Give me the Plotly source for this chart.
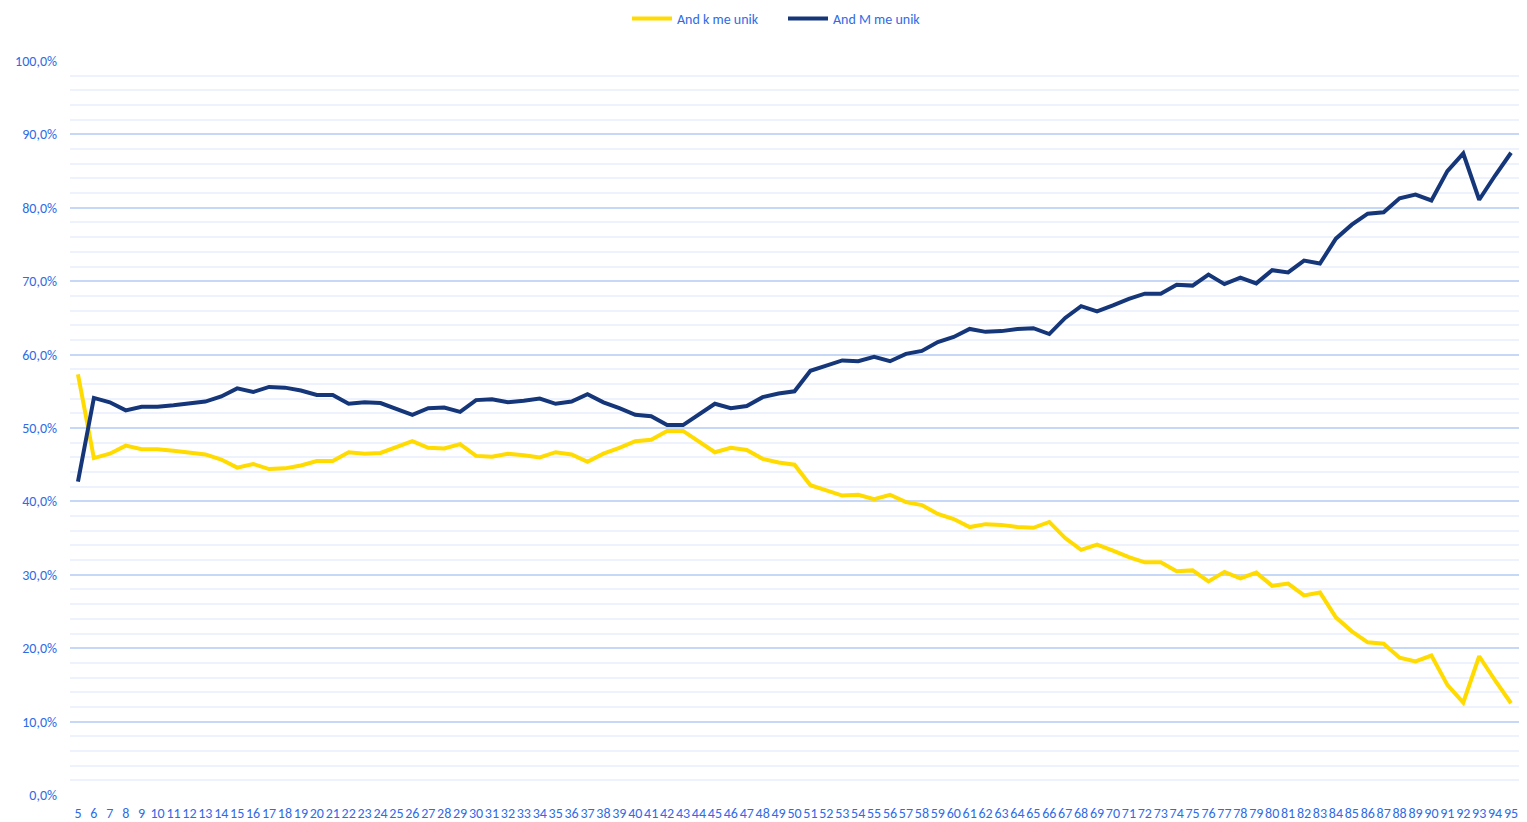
import plotly.graph_objects as go

ages = [str(a) for a in range(5, 96)]

m_unik = [42.7, 54.1, 53.5, 52.4, 52.9, 52.9, 53.1, 53.4, 53.6, 54.3,
          55.4, 54.9, 55.6, 55.5, 55.1, 54.5, 54.5, 53.3, 53.5, 53.4,
          52.6, 51.8, 52.7, 52.8, 52.2, 53.8, 53.9, 53.5, 53.7, 54.0,
          53.3, 53.6, 54.6, 53.5, 52.7, 51.8, 51.6, 50.4, 50.4, 51.9,
          53.3, 52.7, 53.0, 54.2, 54.7, 55.0, 57.8, 58.5, 59.2, 59.1,
          59.7, 59.1, 60.1, 60.5, 61.7, 62.4, 63.5, 63.1, 63.2, 63.5,
          63.6, 62.8, 65.0, 66.6, 65.9, 66.7, 67.6, 68.3, 68.3, 69.5,
          69.4, 70.9, 69.6, 70.5, 69.7, 71.5, 71.2, 72.8, 72.4, 75.8,
          77.7, 79.2, 79.4, 81.3, 81.8, 81.0, 85.0, 87.4, 81.1, 84.4,
          87.5]

k_unik = [57.3, 45.9, 46.5, 47.6, 47.1, 47.1, 46.9, 46.6, 46.4, 45.7,
          44.6, 45.1, 44.4, 44.5, 44.9, 45.5, 45.5, 46.7, 46.5, 46.6,
          47.4, 48.2, 47.3, 47.2, 47.8, 46.2, 46.1, 46.5, 46.3, 46.0,
          46.7, 46.4, 45.4, 46.5, 47.3, 48.2, 48.4, 49.6, 49.6, 48.1,
          46.7, 47.3, 47.0, 45.8, 45.3, 45.0, 42.2, 41.5, 40.8, 40.9,
          40.3, 40.9, 39.9, 39.5, 38.3, 37.6, 36.5, 36.9, 36.8, 36.5,
          36.4, 37.2, 35.0, 33.4, 34.1, 33.3, 32.4, 31.7, 31.7, 30.5,
          30.6, 29.1, 30.4, 29.5, 30.3, 28.5, 28.8, 27.2, 27.6, 24.2,
          22.3, 20.8, 20.6, 18.7, 18.2, 19.0, 15.0, 12.6, 18.9, 15.6,
          12.5]

y_ticks = [0, 10, 20, 30, 40, 50, 60, 70, 80, 90, 100]
y_tick_labels = ["0,0%", "10,0%", "20,0%", "30,0%", "40,0%", "50,0%",
                 "60,0%", "70,0%", "80,0%", "90,0%", "100,0%"]

FONT = "Carlito, Calibri, 'Liberation Sans', sans-serif"
TXT = "#2f6be6"
W, H = 1511, 814

fig = go.Figure()
fig.add_trace(go.Scatter(x=ages, y=k_unik, mode="lines", name="And k me unik",
                         line=dict(color="#ffdb00", width=4)))
fig.add_trace(go.Scatter(x=ages, y=m_unik, mode="lines", name="And M me unik",
                         line=dict(color="#15377a", width=4)))

fig.update_layout(
    width=W, height=H,
    margin=dict(l=62, r=0, t=53, b=27, autoexpand=False),
    paper_bgcolor="white", plot_bgcolor="white",
    font=dict(family=FONT, size=14, color=TXT),
    showlegend=True,
    legend=dict(orientation="h", xref="container", x=(627 - 8) / W, xanchor="left",
                yref="container", y=1 - 11 / H, yanchor="middle",
                entrywidth=101, entrywidthmode="pixels",
                font=dict(family=FONT, size=14, color=TXT), itemwidth=40),
    xaxis=dict(type="category", range=[-0.5, len(ages) - 0.5], showgrid=False,
               showline=False, zeroline=False, ticks="", tickangle=0,
               tickmode="array", tickvals=ages, ticktext=ages,
               tickfont=dict(family=FONT, size=14, color=TXT),
               ticklabelstandoff=8, automargin=False),
    yaxis=dict(range=[0, 100], tickvals=y_ticks, ticktext=y_tick_labels,
               showgrid=True, gridcolor="#c6d8f5", gridwidth=1.5,
               zeroline=False, showline=False, ticks="",
               tickfont=dict(family=FONT, size=14, color=TXT),
               ticklabelstandoff=12, automargin=False,
               minor=dict(dtick=2, showgrid=True, gridcolor="#edf2fc", gridwidth=1.5)),
)

fig.write_html("out.html")
